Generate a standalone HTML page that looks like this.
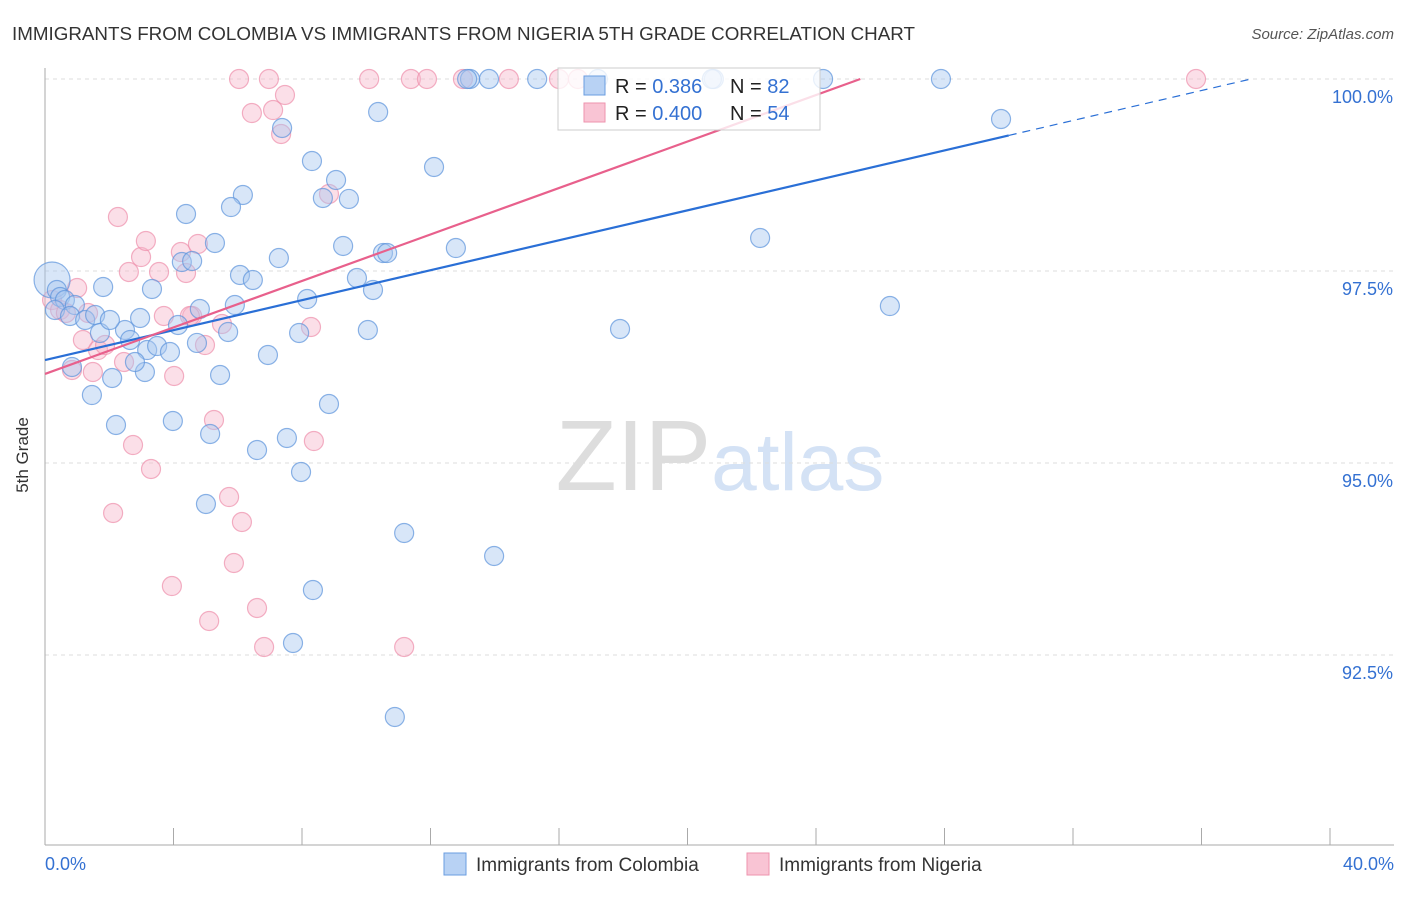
<!DOCTYPE html>
<html><head><meta charset="utf-8"><style>
body{margin:0;background:#fff;font-family:"Liberation Sans",sans-serif}
svg text{font-family:"Liberation Sans",sans-serif}
</style></head><body>
<svg id="c" width="1406" height="892">
<text x="12" y="40" font-size="18.8" fill="#333">IMMIGRANTS FROM COLOMBIA VS IMMIGRANTS FROM NIGERIA 5TH GRADE CORRELATION CHART</text>
<text x="1394" y="39" font-size="15" fill="#555" font-style="italic" text-anchor="end">Source: ZipAtlas.com</text>
<text x="28" y="455" font-size="17" fill="#333" transform="rotate(-90 28 455)" text-anchor="middle">5th Grade</text>
<text x="720" y="490" font-size="100" fill="#ddd" text-anchor="middle" font-family="Liberation Serif">ZIP<tspan fill="#d4e2f5" font-family="Liberation Sans" font-size="82">atlas</tspan></text>
<g id="grid"></g><g id="pts"></g><g id="lines"></g>
<g>
<rect x="558" y="68" width="262" height="62" fill="#fff" stroke="#ccc" fill-opacity="0.8"/>
<rect x="584" y="76" width="21" height="19" fill="#b8d2f4" stroke="#6a9de0"/>
<rect x="584" y="103" width="21" height="19" fill="#f9c4d4" stroke="#ee93ae"/>
<text x="615" y="93" font-size="20" fill="#222">R = <tspan fill="#3471d2"> 0.386</tspan><tspan x="730">N = </tspan><tspan fill="#3471d2">82</tspan></text>
<text x="615" y="120" font-size="20" fill="#222">R = <tspan fill="#3471d2">0.400</tspan><tspan x="730">N = </tspan><tspan fill="#3471d2">54</tspan></text>
</g>
<g>
<rect x="444" y="853" width="22" height="22" fill="#b8d2f4" stroke="#6a9de0"/>
<text x="476" y="871" font-size="19" fill="#333">Immigrants from Colombia</text>
<rect x="747" y="853" width="22" height="22" fill="#f9c4d4" stroke="#ee93ae"/>
<text x="779" y="871" font-size="19" fill="#333">Immigrants from Nigeria</text>
</g>
</svg>
<script>
const yTicks=[100,97.5,95,92.5];
const yTickLabels=["100.0%","97.5%","95.0%","92.5%"];
const xEndLabels=["0.0%","40.0%"];
const colombiaPx=[[52,280],[57,290],[60,297],[65,300],[75,305],[55,310],[70,316],[85,320],[95,315],[103,287],[100,333],[125,330],[140,318],[152,289],[130,340],[147,350],[157,346],[170,352],[178,325],[182,262],[192,261],[200,309],[197,343],[228,332],[235,305],[240,275],[253,280],[279,258],[307,299],[299,333],[268,355],[220,375],[145,372],[135,362],[112,378],[72,367],[92,395],[116,425],[173,421],[210,434],[257,450],[287,438],[301,472],[329,404],[206,504],[313,590],[293,643],[404,533],[494,556],[395,717],[368,330],[373,290],[357,278],[383,253],[387,253],[343,246],[349,199],[323,198],[336,180],[312,161],[282,128],[243,195],[231,207],[215,243],[186,214],[378,112],[434,167],[456,248],[620,329],[760,238],[890,306],[1001,119],[941,79],[823,79],[714,79],[598,79],[537,79],[489,79],[470,79],[467,79],[712,79],[110,320]];
const nigeriaPx=[[52,300],[60,310],[66,313],[77,288],[88,313],[83,340],[98,350],[105,345],[93,372],[72,370],[118,217],[129,272],[141,257],[146,241],[159,272],[186,273],[181,252],[198,244],[164,316],[192,316],[205,345],[222,324],[174,376],[133,445],[151,469],[113,513],[172,586],[209,621],[214,420],[229,497],[242,522],[234,563],[257,608],[264,647],[404,647],[314,441],[311,327],[329,194],[239,79],[269,79],[252,113],[273,110],[285,95],[281,134],[369,79],[411,79],[427,79],[509,79],[559,79],[578,79],[1196,79],[124,362],[190,316],[463,79]];
const colombiaX=colombiaPx.map(p=>+((p[0]-45)/1285*40).toFixed(2));
const colombiaY=colombiaPx.map(p=>+(100-(p[1]-79)/192*2.5).toFixed(3));
const nigeriaX=nigeriaPx.map(p=>+((p[0]-45)/1285*40).toFixed(2));
const nigeriaY=nigeriaPx.map(p=>+(100-(p[1]-79)/192*2.5).toFixed(3));
const blueTrend=[96.34,0.0975], pinkTrend=[96.16,0.1513];
const NS="http://www.w3.org/2000/svg";
const sx=v=>45+v/40*1285, sy=v=>79+(100-v)/2.5*192;
function mk(t,a,p){const e=document.createElementNS(NS,t);for(const k in a)e.setAttribute(k,a[k]);p.appendChild(e);return e;}
const g=document.getElementById('grid');
yTicks.forEach((t,i)=>{
 const l=mk('line',{x1:45,x2:1394,y1:sy(t),y2:sy(t),stroke:'#ddd','stroke-dasharray':'4,4'},g);
 
 
 const tx=mk('text',{x:1393,y:sy(t)+24,'font-size':18,fill:'#3471d2','text-anchor':'end'},g);
 tx.textContent=yTickLabels[i];
 
 
});
const ax=mk('line',{x1:45,x2:45,y1:68,y2:845,stroke:'#aaa'},g);


const bx=mk('line',{x1:45,x2:1394,y1:845,y2:845,stroke:'#aaa'},g);


for(let i=0;i<=10;i++){const t=mk('line',{x1:sx(i*4),x2:sx(i*4),y1:828,y2:845,stroke:'#aaa'},g);
 
 }
[[0,'start',45],[40,'end',1394]].forEach((d,i)=>{const t=mk('text',{x:d[2],y:870,'font-size':18,fill:'#3471d2','text-anchor':d[1]},g);t.textContent=xEndLabels[i];
 
 });
const P=document.getElementById('pts');
function dots(X,Y,fill,stroke,name){X.forEach((x,i)=>{const r=(i==0&&name=='colombia-point')?18:9.5;
 const c=mk('circle',{cx:sx(x),cy:sy(Y[i]),r:r,fill:fill,'fill-opacity':0.45,stroke:stroke,'stroke-opacity':0.7,'stroke-width':1.2},P);
 
 });}
dots(nigeriaX,nigeriaY,'#f7b8cb','#ee8fab','nigeria-point');
dots(colombiaX,colombiaY,'#a9c8f0','#5b93dc','colombia-point');
const L=document.getElementById('lines');
const bl=mk('line',{x1:sx(0),y1:sy(blueTrend[0]),x2:sx(30),y2:sy(blueTrend[0]+30*blueTrend[1]),stroke:'#2a6fd6','stroke-width':2.2},L);


const xe=(100-blueTrend[0])/blueTrend[1];
const bd=mk('line',{x1:sx(30),y1:sy(blueTrend[0]+30*blueTrend[1]),x2:sx(xe),y2:sy(100),stroke:'#2a6fd6','stroke-width':1.2,'stroke-dasharray':'8,6'},L);


const pe=(100-pinkTrend[0])/pinkTrend[1];
const pl=mk('line',{x1:sx(0),y1:sy(pinkTrend[0]),x2:sx(pe),y2:sy(100),stroke:'#e8608c','stroke-width':2.2},L);


</script>
</body></html>
